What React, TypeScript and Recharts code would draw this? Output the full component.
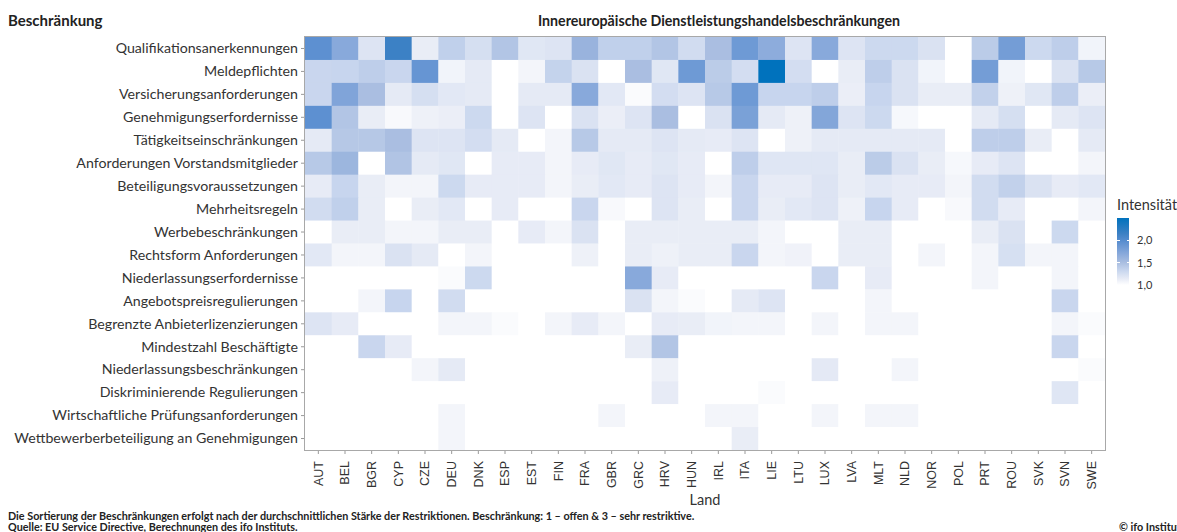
import React from 'react';
import { ScatterChart, Scatter, XAxis, YAxis } from 'recharts';

/* ── Data ─────────────────────────────────────────────────────────────────── */

const countries = [
  'AUT', 'BEL', 'BGR', 'CYP', 'CZE', 'DEU', 'DNK', 'ESP', 'EST', 'FIN',
  'FRA', 'GBR', 'GRC', 'HRV', 'HUN', 'IRL', 'ITA', 'LIE', 'LTU', 'LUX',
  'LVA', 'MLT', 'NLD', 'NOR', 'POL', 'PRT', 'ROU', 'SVK', 'SVN', 'SWE',
];

const restrictions = [
  'Qualifikationsanerkennungen',
  'Meldepflichten',
  'Versicherungsanforderungen',
  'Genehmigungserfordernisse',
  'Tätigkeitseinschränkungen',
  'Anforderungen Vorstandsmitglieder',
  'Beteiligungsvoraussetzungen',
  'Mehrheitsregeln',
  'Werbebeschränkungen',
  'Rechtsform Anforderungen',
  'Niederlassungserfordernisse',
  'Angebotspreisregulierungen',
  'Begrenzte Anbieterlizenzierungen',
  'Mindestzahl Beschäftigte',
  'Niederlassungsbeschränkungen',
  'Diskriminierende Regulierungen',
  'Wirtschaftliche Prüfungsanforderungen',
  'Wettbewerberbeteiligung an Genehmigungen',
];

// one array per restriction, values in country order (1 = open, 3 = very restrictive)
const qualifikation = [1.95, 1.7, 1.2, 2.15, 1.13, 1.37, 1.25, 1.45, 1.18, 1.2, 1.6, 1.37, 1.37, 1.45, 1.27, 1.5, 1.85, 1.67, 1.2, 1.7, 1.2, 1.3, 1.3, 1.22, 1.0, 1.4, 1.82, 1.3, 1.38, 1.08];
const meldepflichten = [1.32, 1.33, 1.38, 1.32, 1.9, 1.08, 1.15, 1.0, 1.07, 1.35, 1.22, 1.0, 1.5, 1.18, 1.85, 1.4, 1.26, 2.5, 1.26, 1.0, 1.13, 1.38, 1.22, 1.08, 1.0, 1.82, 1.08, 1.0, 1.22, 1.42];
const versicherung = [1.32, 1.75, 1.5, 1.15, 1.25, 1.17, 1.15, 1.0, 1.15, 1.15, 1.7, 1.17, 1.03, 1.26, 1.2, 1.42, 1.85, 1.33, 1.33, 1.38, 1.12, 1.33, 1.22, 1.13, 1.13, 1.36, 1.1, 1.18, 1.38, 1.12];
const genehmigung = [1.95, 1.45, 1.13, 1.04, 1.1, 1.12, 1.3, 1.0, 1.2, 1.0, 1.22, 1.12, 1.2, 1.5, 1.0, 1.22, 1.78, 1.15, 1.1, 1.73, 1.2, 1.3, 1.05, 1.0, 1.0, 1.15, 1.25, 1.0, 1.15, 1.2];
const taetigkeit = [1.15, 1.43, 1.43, 1.5, 1.2, 1.2, 1.26, 1.15, 1.0, 1.07, 1.42, 1.15, 1.15, 1.2, 1.15, 1.14, 1.2, 1.0, 1.1, 1.15, 1.15, 1.15, 1.15, 1.15, 1.0, 1.38, 1.38, 1.13, 1.0, 1.15];
const vorstand = [1.42, 1.58, 1.0, 1.46, 1.15, 1.18, 1.0, 1.14, 1.14, 1.07, 1.14, 1.18, 1.14, 1.18, 1.14, 1.0, 1.38, 1.19, 1.19, 1.19, 1.13, 1.4, 1.22, 1.13, 1.05, 1.14, 1.2, 1.0, 1.0, 1.07];
const beteiligung = [1.14, 1.33, 1.13, 1.07, 1.07, 1.3, 1.14, 1.14, 1.14, 1.07, 1.13, 1.17, 1.14, 1.2, 1.14, 1.07, 1.32, 1.14, 1.14, 1.2, 1.13, 1.17, 1.14, 1.14, 1.07, 1.27, 1.36, 1.22, 1.14, 1.17];
const mehrheit = [1.27, 1.37, 1.13, 1.0, 1.13, 1.17, 1.0, 1.14, 1.0, 1.0, 1.32, 1.04, 1.0, 1.2, 1.13, 1.0, 1.32, 1.13, 1.17, 1.2, 1.1, 1.33, 1.14, 1.0, 1.04, 1.27, 1.14, 1.0, 1.0, 1.07];
const werbung = [1.0, 1.13, 1.13, 1.07, 1.07, 1.13, 1.13, 1.0, 1.14, 1.07, 1.22, 1.0, 1.13, 1.13, 1.13, 1.13, 1.13, 1.07, 1.0, 1.0, 1.13, 1.13, 1.0, 1.0, 1.0, 1.13, 1.22, 1.0, 1.3, 1.0];
const rechtsform = [1.17, 1.07, 1.07, 1.22, 1.15, 1.0, 1.07, 1.0, 1.0, 1.0, 1.1, 1.0, 1.13, 1.1, 1.13, 1.13, 1.32, 1.07, 1.09, 1.0, 1.13, 1.13, 1.0, 1.07, 1.0, 1.07, 1.24, 1.07, 1.07, 1.0];
const niederlassungErf = [1.0, 1.0, 1.0, 1.0, 1.0, 1.03, 1.3, 1.0, 1.0, 1.0, 1.0, 1.0, 1.7, 1.14, 1.0, 1.0, 1.0, 1.0, 1.0, 1.32, 1.0, 1.14, 1.0, 1.0, 1.0, 1.07, 1.0, 1.0, 1.07, 1.0];
const angebotspreis = [1.0, 1.0, 1.07, 1.33, 1.0, 1.27, 1.0, 1.0, 1.0, 1.0, 1.0, 1.0, 1.22, 1.07, 1.03, 1.0, 1.15, 1.2, 1.0, 1.0, 1.0, 1.07, 1.0, 1.0, 1.0, 1.0, 1.0, 1.0, 1.32, 1.0];
const lizenzen = [1.2, 1.14, 1.0, 1.0, 1.0, 1.07, 1.07, 1.03, 1.0, 1.07, 1.14, 1.07, 1.0, 1.14, 1.13, 1.08, 1.07, 1.07, 1.0, 1.07, 1.0, 1.07, 1.07, 1.0, 1.0, 1.0, 1.0, 1.0, 1.07, 1.03];
const mindestzahl = [1.0, 1.0, 1.32, 1.14, 1.0, 1.0, 1.0, 1.0, 1.0, 1.0, 1.0, 1.0, 1.13, 1.45, 1.0, 1.0, 1.0, 1.0, 1.0, 1.0, 1.0, 1.0, 1.0, 1.0, 1.0, 1.0, 1.0, 1.0, 1.32, 1.0];
const niederlassungBes = [1.0, 1.0, 1.0, 1.0, 1.07, 1.15, 1.0, 1.0, 1.0, 1.0, 1.0, 1.0, 1.0, 1.1, 1.0, 1.0, 1.0, 1.0, 1.0, 1.16, 1.0, 1.0, 1.07, 1.0, 1.0, 1.0, 1.0, 1.0, 1.0, 1.03];
const diskriminierung = [1.0, 1.0, 1.0, 1.0, 1.0, 1.0, 1.0, 1.0, 1.0, 1.0, 1.0, 1.0, 1.0, 1.14, 1.0, 1.0, 1.0, 1.03, 1.0, 1.0, 1.0, 1.0, 1.0, 1.0, 1.0, 1.0, 1.0, 1.0, 1.19, 1.0];
const pruefung = [1.0, 1.0, 1.0, 1.0, 1.0, 1.07, 1.0, 1.0, 1.0, 1.0, 1.0, 1.07, 1.0, 1.0, 1.0, 1.07, 1.07, 1.0, 1.0, 1.07, 1.0, 1.07, 1.07, 1.0, 1.0, 1.0, 1.0, 1.0, 1.0, 1.0];
const wettbewerber = [1.0, 1.0, 1.0, 1.0, 1.0, 1.07, 1.0, 1.0, 1.0, 1.0, 1.0, 1.0, 1.0, 1.0, 1.0, 1.0, 1.13, 1.0, 1.0, 1.0, 1.0, 1.0, 1.0, 1.0, 1.0, 1.0, 1.0, 1.0, 1.0, 1.0];

const rows = [
  qualifikation, meldepflichten, versicherung, genehmigung, taetigkeit, vorstand,
  beteiligung, mehrheit, werbung, rechtsform, niederlassungErf, angebotspreis,
  lizenzen, mindestzahl, niederlassungBes, diskriminierung, pruefung, wettbewerber,
];

const legendTicks = [2.0, 1.5, 1.0];

/* ── Colour scale ─────────────────────────────────────────────────────────── */

const V_MIN = 1.0;
const V_MAX = 2.5;

const stops: Array<[number, [number, number, number]]> = [
  [0, [255, 255, 255]],
  [0.09, [232, 236, 246]],
  [0.216, [200, 214, 238]],
  [0.34, [168, 189, 224]],
  [0.459, [138, 170, 219]],
  [0.643, [91, 143, 208]],
  [0.773, [58, 128, 196]],
  [1, [0, 114, 189]],
];

function fillFor(v: number) {
  const t = Math.min(1, Math.max(0, (v - V_MIN) / (V_MAX - V_MIN)));
  for (let i = 1; i < stops.length; i++) {
    const [t1, c1] = stops[i];
    const [t0, c0] = stops[i - 1];
    if (t <= t1) {
      const f = (t - t0) / (t1 - t0);
      const c = c0.map((a, k) => Math.round(a + (c1[k] - a) * f));
      return `rgb(${c[0]},${c[1]},${c[2]})`;
    }
  }
  return 'rgb(0,114,189)';
}

const gradientCss = `linear-gradient(to top, ${stops
  .map(([t, c]) => `rgb(${c.join(',')}) ${(t * 100).toFixed(1)}%`)
  .join(', ')})`;

/* ── Layout ───────────────────────────────────────────────────────────────── */

const W = 1177;
const H = 532;
const PLOT_LEFT = 305;
const PLOT_TOP = 37;
const PLOT_W = 800;
const PLOT_H = 413;
const X_AXIS_H = 50;
const CELL_W = PLOT_W / countries.length;
const CELL_H = PLOT_H / restrictions.length;

const cells = rows.flatMap((vals, r) =>
  vals.map((v, c) => ({ x: c, y: r, v })),
);

function Tile(props: any) {
  const { cx, cy, payload } = props;
  return (
    <rect
      x={cx - CELL_W / 2}
      y={cy - CELL_H / 2}
      width={CELL_W + 0.4}
      height={CELL_H + 0.4}
      fill={fillFor(payload.v)}
    />
  );
}

function CountryTick({ x, y, payload }: any) {
  return (
    <text
      x={x}
      y={y}
      dy={4.3}
      transform={`rotate(-90 ${x} ${y})`}
      textAnchor="end"
      fontFamily="'Liberation Sans', Arial, sans-serif"
      fontSize={12.5}
      fill="#333"
    >
      {countries[payload.value]}
    </text>
  );
}

function RestrictionTick({ x, y, payload }: any) {
  return (
    <text
      x={x}
      y={y}
      dy={4.8}
      textAnchor="end"
      fontFamily="Lato, sans-serif"
      fontSize={14.2}
      fill="#333"
    >
      {restrictions[payload.value]}
    </text>
  );
}

const BAR_TOP = 218;
const BAR_H = 67;
const barY = (v: number) => BAR_TOP + BAR_H - ((v - V_MIN) / (V_MAX - V_MIN)) * BAR_H;

/* ── Component ────────────────────────────────────────────────────────────── */

export default function App() {
  return (
    <div
      style={{
        position: 'absolute',
        left: 0,
        top: 0,
        width: W,
        height: H,
        background: '#fff',
        overflow: 'hidden',
        fontFamily: 'Lato, sans-serif',
        color: '#222',
      }}
    >
      <ScatterChart
        width={W}
        height={H}
        margin={{ top: PLOT_TOP, right: W - PLOT_LEFT - PLOT_W, bottom: H - PLOT_TOP - PLOT_H - X_AXIS_H, left: 0 }}
      >
        <XAxis
          type="number"
          dataKey="x"
          domain={[-0.5, countries.length - 0.5]}
          ticks={countries.map((_, i) => i)}
          interval={0}
          height={X_AXIS_H}
          axisLine={false}
          tickLine={{ stroke: '#999' }}
          tickSize={4}
          tickMargin={7}
          tick={<CountryTick />}
        />
        <YAxis
          type="number"
          dataKey="y"
          reversed
          domain={[-0.5, restrictions.length - 0.5]}
          ticks={restrictions.map((_, i) => i)}
          interval={0}
          width={PLOT_LEFT}
          axisLine={false}
          tickLine={{ stroke: '#999' }}
          tickSize={4}
          tickMargin={3}
          tick={<RestrictionTick />}
        />
        <Scatter data={cells} shape={Tile} isAnimationActive={false} />
      </ScatterChart>

      {/* panel border */}
      <div
        style={{
          position: 'absolute',
          left: PLOT_LEFT - 1,
          top: PLOT_TOP - 1,
          width: PLOT_W,
          height: PLOT_H,
          border: '1px solid #a8a8a8',
          pointerEvents: 'none',
        }}
      />

      <div style={{ position: 'absolute', left: 8, top: 11, fontSize: 15, fontWeight: 700 }}>
        Beschränkung
      </div>
      <div
        style={{
          position: 'absolute',
          left: 319,
          width: PLOT_W,
          top: 12,
          textAlign: 'center',
          fontSize: 14.2,
          fontWeight: 700,
        }}
      >
        Innereuropäische Dienstleistungshandelsbeschränkungen
      </div>
      <div
        style={{
          position: 'absolute',
          left: PLOT_LEFT,
          width: PLOT_W,
          top: 491,
          textAlign: 'center',
          fontSize: 14.5,
          color: '#333',
        }}
      >
        Land
      </div>

      {/* legend */}
      <div style={{ position: 'absolute', left: 1117, top: 196, fontSize: 14.5, color: '#333' }}>
        Intensität
      </div>
      <div
        style={{
          position: 'absolute',
          left: 1117,
          top: BAR_TOP,
          width: 12,
          height: BAR_H,
          background: gradientCss,
        }}
      />
      {legendTicks.map((v) => (
        <React.Fragment key={v}>
          <div style={{ position: 'absolute', left: 1117, top: barY(v) - 0.5, width: 2.5, height: 1, background: '#fff' }} />
          <div style={{ position: 'absolute', left: 1126.5, top: barY(v) - 0.5, width: 2.5, height: 1, background: '#fff' }} />
          <div
            style={{
              position: 'absolute',
              left: 1137,
              top: barY(v) - 7,
              fontSize: 11,
              lineHeight: '14px',
              color: '#333',
            }}
          >
            {v.toFixed(1).replace('.', ',')}
          </div>
        </React.Fragment>
      ))}

      {/* footnotes */}
      <div style={{ position: 'absolute', left: 8, top: 510, fontSize: 10.8, fontWeight: 700, lineHeight: '11px', whiteSpace: 'nowrap' }}>
        Die Sortierung der Beschränkungen erfolgt nach der durchschnittlichen Stärke der Restriktionen. Beschränkung: 1 – offen &amp; 3 – sehr restriktive.
        <br />
        Quelle: EU Service Directive, Berechnungen des ifo Instituts.
      </div>
      <div style={{ position: 'absolute', left: 1119, top: 521, fontSize: 10.8, fontWeight: 700, lineHeight: '11px', whiteSpace: 'nowrap' }}>
        © ifo Institut
      </div>
    </div>
  );
}
